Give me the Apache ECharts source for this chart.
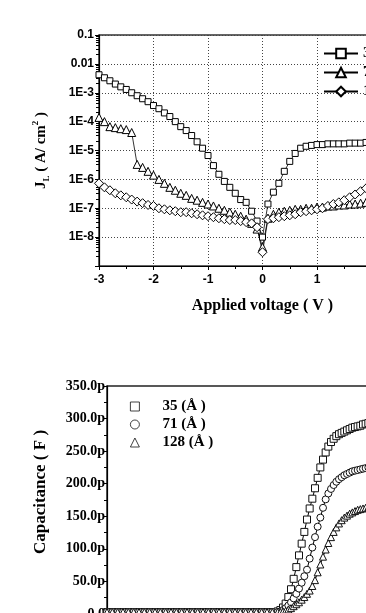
<!DOCTYPE html>
<html>
<head>
<meta charset="utf-8">
<script src="https://cdn.jsdelivr.net/npm/echarts@6/dist/echarts.min.js"></script>
<style>
  html, body { margin: 0; padding: 0; background: #fff; }
  #container { width: 366px; height: 613px; }
</style>
</head>
<body>
<div id="container"></div>
<script>
var dom = document.getElementById('container');
var myChart = echarts.init(dom, null, { renderer: 'canvas' });

// ---- top panel: leakage current density vs applied voltage ----
const jvNames = ['35 (Å)', '71 (Å)', '128 (Å)'];
const jvVolt = [
  -3.0, -2.9, -2.8, -2.7, -2.6, -2.5, -2.4, -2.3, -2.2, -2.1,
  -2.0, -1.9, -1.8, -1.7, -1.6, -1.5, -1.4, -1.3, -1.2, -1.1,
  -1.0, -0.9, -0.8, -0.7, -0.6, -0.5, -0.4, -0.3, -0.2, -0.1,
  0.0, 0.1, 0.2, 0.3, 0.4, 0.5, 0.6, 0.7, 0.8, 0.9,
  1.0, 1.1, 1.2, 1.3, 1.4, 1.5, 1.6, 1.7, 1.8, 1.9, 2.0
];
const j35 = [
  4.2e-3, 3.3e-3, 2.6e-3, 2.0e-3, 1.6e-3, 1.3e-3, 1.0e-3, 7.9e-4, 6.2e-4, 4.9e-4,
  3.6e-4, 2.8e-4, 2.0e-4, 1.5e-4, 1.0e-4, 6.7e-5, 4.9e-5, 3.3e-5, 2.0e-5, 1.2e-5,
  6.7e-6, 3.0e-6, 1.5e-6, 8.5e-7, 5.3e-7, 3.3e-7, 2.0e-7, 1.6e-7, 7.9e-8, 3.6e-8,
  1.0e-8, 1.4e-7, 3.6e-7, 7.3e-7, 1.9e-6, 4.2e-6, 7.9e-6, 1.2e-5, 1.4e-5, 1.5e-5,
  1.6e-5, 1.6e-5, 1.7e-5, 1.7e-5, 1.7e-5, 1.7e-5, 1.8e-5, 1.8e-5, 1.8e-5, 1.9e-5, 1.9e-5
];
const j71 = [
  1.4e-4, 1.0e-4, 6.7e-5, 6.2e-5, 5.7e-5, 5.3e-5, 4.2e-5, 3.3e-6, 2.6e-6, 1.9e-6,
  1.4e-6, 1.0e-6, 7.3e-7, 5.3e-7, 4.2e-7, 3.3e-7, 2.8e-7, 2.2e-7, 1.9e-7, 1.6e-7,
  1.4e-7, 1.2e-7, 1.0e-7, 8.5e-8, 7.3e-8, 6.2e-8, 5.3e-8, 4.2e-8, 3.0e-8, 1.9e-8,
  4.5e-9, 4.5e-8, 6.2e-8, 7.3e-8, 7.9e-8, 8.5e-8, 9.2e-8, 9.2e-8, 1.0e-7, 1.0e-7,
  1.1e-7, 1.1e-7, 1.2e-7, 1.2e-7, 1.3e-7, 1.3e-7, 1.4e-7, 1.4e-7, 1.5e-7, 1.6e-7, 1.6e-7
];
const j128 = [
  7.3e-7, 5.3e-7, 4.2e-7, 3.3e-7, 2.8e-7, 2.4e-7, 2.0e-7, 1.7e-7, 1.5e-7, 1.3e-7,
  1.2e-7, 1.0e-7, 9.2e-8, 8.5e-8, 7.9e-8, 7.3e-8, 7.3e-8, 6.7e-8, 6.2e-8, 5.7e-8,
  5.3e-8, 4.9e-8, 4.5e-8, 4.2e-8, 3.9e-8, 3.9e-8, 3.6e-8, 3.3e-8, 3.0e-8, 2.2e-8,
  3.0e-9, 4.2e-8, 4.5e-8, 4.9e-8, 5.3e-8, 5.7e-8, 6.2e-8, 7.3e-8, 7.9e-8, 8.5e-8,
  9.2e-8, 1.0e-7, 1.2e-7, 1.4e-7, 1.6e-7, 1.9e-7, 2.4e-7, 3.0e-7, 3.9e-7, 4.9e-7, 6.2e-7
];

// ---- bottom panel: capacitance (pF) vs voltage ----
const cvNames = ['35 (Å )', '71 (Å )', '128 (Å )'];
const cvVolt = [
  -3.0, -2.9, -2.8, -2.7, -2.6, -2.5, -2.4, -2.3, -2.2, -2.1,
  -2.0, -1.9, -1.8, -1.7, -1.6, -1.5, -1.4, -1.3, -1.2, -1.1,
  -1.0, -0.9, -0.8, -0.7, -0.6, -0.5, -0.4, -0.3, -0.2, -0.1,
  0.0, 0.1, 0.2,
  0.25, 0.30, 0.35, 0.40, 0.45, 0.50, 0.55, 0.60, 0.65, 0.70,
  0.75, 0.80, 0.85, 0.90, 0.95, 1.00, 1.05, 1.10, 1.15, 1.20,
  1.25, 1.30, 1.35, 1.40, 1.45, 1.50, 1.55, 1.60, 1.65, 1.70,
  1.75, 1.80, 1.85, 1.90
];
const c35 = [
  3, 3, 3, 3, 3, 3, 3, 3, 3, 3,
  3, 3, 3, 3, 3, 3, 3, 3, 3, 3,
  3, 3, 3, 3, 3, 3, 3, 3, 3, 3,
  3, 3, 4,
  6, 10, 16, 26, 38, 54, 72, 90, 108, 126,
  145, 162, 177, 193, 209, 225, 237, 248, 257, 264,
  269, 273, 276, 278, 280, 282, 284, 286, 287, 288,
  289, 291, 292, 293
];
const c71 = [
  3, 3, 3, 3, 3, 3, 3, 3, 3, 3,
  3, 3, 3, 3, 3, 3, 3, 3, 3, 3,
  3, 3, 3, 3, 3, 3, 3, 3, 3, 3,
  3, 3, 3,
  4, 6, 9, 13, 18, 24, 31, 39, 48, 58,
  68, 85, 102, 118, 134, 148, 163, 176, 185, 192,
  198, 203, 207, 210, 213, 215, 217, 219, 220, 221,
  222, 223, 224, 225
];
const c128 = [
  3, 3, 3, 3, 3, 3, 3, 3, 3, 3,
  3, 3, 3, 3, 3, 3, 3, 3, 3, 3,
  3, 3, 3, 3, 3, 3, 3, 3, 3, 3,
  3, 3, 3,
  3, 4, 5, 7, 9, 12, 15, 18, 22, 26,
  31, 36, 43, 52, 64, 76, 88, 99, 109, 118,
  126, 133, 139, 144, 148, 151, 154, 156, 158, 160,
  161, 162, 163, 164
];

const serif = 'Liberation Serif';
const sans = 'Liberation Sans';
const jvSymbols = [['rect', 6], ['triangle', 8], ['diamond', 9]];
const cvSymbols = [['rect', 7], ['circle', 7], ['triangle', 7]];
const jvData = [j35, j71, j128];
const cvData = [c35, c71, c128];

function pairs(xs, ys) {
  return xs.map((x, i) => [x, ys[i]]);
}

function logLabel(v) {
  if (v >= 0.01) return String(+v.toPrecision(2));
  return '1E' + Math.round(Math.log10(v));
}

let series = [];
jvNames.forEach((name, i) => {
  series.push({
    name: name,
    type: 'line',
    xAxisIndex: 0,
    yAxisIndex: 0,
    data: pairs(jvVolt, jvData[i]),
    symbol: jvSymbols[i][0],
    symbolSize: jvSymbols[i][1],
    showAllSymbol: true,
    lineStyle: { color: '#000', width: 0.8 },
    itemStyle: { color: '#fff', borderColor: '#000', borderWidth: 1 },
    animation: false
  });
});
cvNames.forEach((name, i) => {
  series.push({
    name: name,
    type: 'line',
    xAxisIndex: 1,
    yAxisIndex: 1,
    data: pairs(cvVolt, cvData[i]),
    symbol: cvSymbols[i][0],
    symbolSize: cvSymbols[i][1],
    showAllSymbol: true,
    lineStyle: { color: '#000', width: 1 },
    itemStyle: { color: '#fff', borderColor: '#111', borderWidth: 1 },
    animation: false
  });
});

var option = {
  backgroundColor: '#fff',
  grid: [
    { left: 99, top: 35, width: 327, height: 231, outerBoundsMode: 'none', containLabel: false,
      show: true, borderColor: '#333', borderWidth: 1.5 },
    { left: 107, top: 386, width: 320, height: 228, outerBoundsMode: 'none', containLabel: false,
      show: true, borderColor: '#222', borderWidth: 1.5 }
  ],
  legend: [
    {
      data: jvNames,
      orient: 'vertical',
      left: 318,
      top: 41,
      itemWidth: 34,
      itemHeight: 12,
      itemGap: 4,
      selectedMode: false,
      textStyle: { fontFamily: serif, fontWeight: 'bold', fontSize: 15, color: '#000' }
    },
    {
      data: cvNames.map((n, i) => ({ name: n, icon: cvSymbols[i][0] })),
      orient: 'vertical',
      left: 125,
      top: 394,
      itemWidth: 9,
      itemHeight: 9,
      itemGap: 3,
      selectedMode: false,
      itemStyle: { borderWidth: 0.8 },
      textStyle: { fontFamily: serif, fontWeight: 'bold', fontSize: 15, color: '#000', padding: [0, 0, 0, 18] }
    }
  ],
  xAxis: [
    {
      gridIndex: 0,
      type: 'value',
      min: -3,
      max: 3,
      interval: 1,
      name: 'Applied voltage ( V )',
      nameLocation: 'middle',
      nameGap: 32,
      nameTextStyle: { fontFamily: serif, fontWeight: 'bold', fontSize: 16, color: '#000' },
      axisLine: { onZero: false, lineStyle: { color: '#000', width: 1.2 } },
      axisTick: { show: true, length: 4, lineStyle: { color: '#000' } },
      minorTick: { show: true, splitNumber: 2, length: 3, lineStyle: { color: '#000' } },
      axisLabel: { fontFamily: sans, fontWeight: 'bold', fontSize: 12, color: '#000', margin: 8 },
      splitLine: { show: true, lineStyle: { type: [1, 2], color: '#444', width: 1 } }
    },
    {
      gridIndex: 1,
      type: 'value',
      min: -3,
      max: 3,
      interval: 1,
      axisLine: { onZero: false, lineStyle: { color: '#000', width: 1.2 } },
      axisTick: { show: true, lineStyle: { color: '#000' } },
      axisLabel: { fontFamily: serif, fontWeight: 'bold', fontSize: 13, color: '#000' },
      splitLine: { show: false }
    }
  ],
  yAxis: [
    {
      gridIndex: 0,
      type: 'log',
      logBase: 10,
      min: 1e-9,
      max: 0.1,
      splitNumber: 8,
      name: '{b|J}{sub|L}{b| ( A/ cm}{sup|2}{b| )}',
      nameLocation: 'middle',
      nameGap: 48,
      nameRotate: 90,
      nameTextStyle: {
        rich: {
          b: { fontFamily: serif, fontWeight: 'bold', fontSize: 15, color: '#000', lineHeight: 20 },
          sub: { fontFamily: serif, fontWeight: 'bold', fontSize: 9, color: '#000', lineHeight: 20, verticalAlign: 'bottom' },
          sup: { fontFamily: serif, fontWeight: 'bold', fontSize: 9, color: '#000', lineHeight: 20, verticalAlign: 'top' }
        }
      },
      axisLine: { show: true, onZero: false, lineStyle: { color: '#000', width: 1.2 } },
      axisTick: { show: true, length: 4, lineStyle: { color: '#000' } },
      minorTick: { show: true, splitNumber: 8, length: 3, lineStyle: { color: '#000' } },
      axisLabel: {
        fontFamily: sans, fontWeight: 'bold', fontSize: 12, color: '#000', margin: 5,
        showMinLabel: false,
        formatter: logLabel
      },
      splitLine: { show: true, lineStyle: { type: [1, 2], color: '#444', width: 1 } }
    },
    {
      gridIndex: 1,
      type: 'value',
      min: 0,
      max: 350,
      interval: 50,
      name: 'Capacitance ( F )',
      nameLocation: 'middle',
      nameGap: 58,
      nameRotate: 90,
      nameTextStyle: { fontFamily: serif, fontWeight: 'bold', fontSize: 17, color: '#000', padding: [0, 0, 0, 16] },
      axisLine: { show: true, onZero: false, lineStyle: { color: '#000', width: 1.2 } },
      axisTick: { show: true, length: 4, lineStyle: { color: '#000' } },
      minorTick: { show: true, splitNumber: 2, length: 3, lineStyle: { color: '#000' } },
      axisLabel: {
        fontFamily: serif, fontWeight: 'bold', fontSize: 14, color: '#000', margin: 2,
        formatter: function (v) { return v === 0 ? '0.0' : v.toFixed(1) + 'p'; }
      },
      splitLine: { show: false }
    }
  ],
  series: series
};

myChart.setOption(option);
window.addEventListener('resize', myChart.resize);
</script>
</body>
</html>
